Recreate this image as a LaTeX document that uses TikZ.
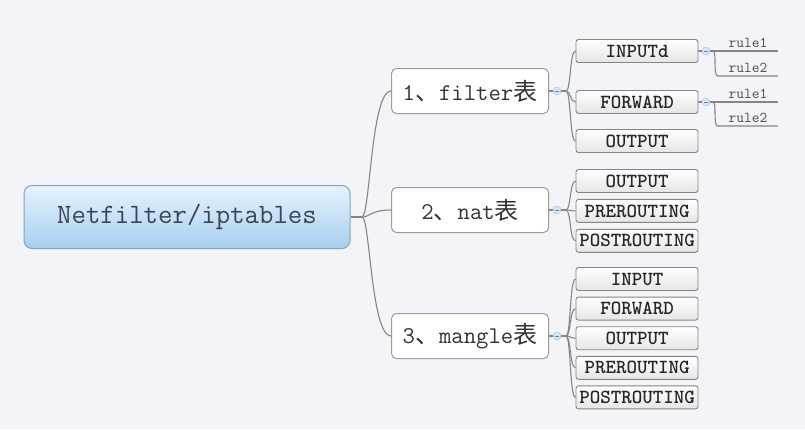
\documentclass[tikz,border=0pt]{standalone}
\usepackage{fontspec}
\newfontfamily\cjk{Noto Sans CJK SC}
\usetikzlibrary{positioning,calc}
\definecolor{fondo}{HTML}{F3F4F8}
\definecolor{linea}{HTML}{858585}
\definecolor{raizborde}{HTML}{7EA3C4}
\definecolor{raizarriba}{HTML}{E6F2FD}
\definecolor{raizabajo}{HTML}{A8CFF1}
\definecolor{raiztexto}{HTML}{3A4656}
\definecolor{cajaborde}{HTML}{9C9C9C}
\definecolor{puntoborde}{HTML}{9EC2E6}
\definecolor{puntofondo}{HTML}{D3E5F6}
\tikzset{
    raiz/.style={
        rectangle,
        rounded corners=8pt,          % esquinas bien redondeadas
        draw=raizborde,
        top color=raizarriba,         % degradado azul claro
        bottom color=raizabajo,
        line width=1pt,
        minimum width=326pt,
        minimum height=63pt,
        text=raiztexto,
        font=\ttfamily\fontsize{28}{28}\selectfont
    },
    tabla/.style={
        rectangle,
        rounded corners=5pt,
        draw=cajaborde,
        fill=white,                   % caja blanca para cada tabla
        line width=1pt,
        minimum width=157pt,
        minimum height=45pt,
        text=black!80,
        font=\ttfamily\fontsize{24}{24}\selectfont
    },
    cadena/.style={
        rectangle,
        rounded corners=2.5pt,        % cajas pequeñas de las cadenas
        draw=linea,
        top color=white,
        bottom color=black!10,
        line width=0.9pt,
        minimum width=122pt,
        minimum height=23pt,
        inner sep=0pt,
        text=black!85,
        font=\ttfamily\bfseries\fontsize{20}{20}\selectfont
    },
    regla/.style={
        anchor=south,                 % el texto queda sobre la línea
        minimum width=60pt,
        inner sep=3pt,
        text=black!70,
        font=\ttfamily\fontsize{15}{15}\selectfont
    },
    punto/.style={
        circle,
        draw=puntoborde,
        fill=puntofondo,
        minimum size=8pt,
        inner sep=0pt,
        path picture={\draw[puntoborde!70!black]
            ([xshift=-2pt]path picture bounding box.center) --
            ([xshift=2pt]path picture bounding box.center);}
    },
    rama/.style={draw=linea, line width=1.1pt}
}

\begin{document}
\begin{tikzpicture}[x=1pt, y=-1pt, node distance=6pt]
    \useasboundingbox (0,0) rectangle (805,429);
    \fill[fondo] (0,0) rectangle (805,429);

    % nodo raiz y tablas
    \node[raiz] (netfilter) at (187,217) {Netfilter/iptables};
    \node[tabla] (filter) at (470,91) {1{\cjk 、}filter{\cjk 表}};
    \node[tabla] (nat) at (470,210) {2{\cjk 、}nat{\cjk 表}};
    \node[tabla] (mangle) at (470,336) {3{\cjk 、}mangle{\cjk 表}};

    \coordinate (raizNudo) at (362,217);
    \draw[rama] (netfilter.east) -- (raizNudo);
    \foreach \t in {filter,nat,mangle}
        \draw[rama] (raizNudo) .. controls +(8,0) and +(-20,0) .. (\t.west);

    % cadenas de cada tabla
    \node[cadena] (fInput) at (637,51) {INPUTd};
    \node[cadena] (fForward) at (637,102) {FORWARD};
    \node[cadena] (fOutput) at (637,141) {OUTPUT};

    \node[cadena] (nOutput) at (637,181) {OUTPUT};
    \node[cadena, below=of nOutput] (nPre) {PREROUTING};
    \node[cadena, below=of nPre] (nPost) {POSTROUTING};

    \node[cadena] (mInput) at (637,279) {INPUT};
    \node[cadena, below=5.7pt of mInput] (mForward) {FORWARD};
    \node[cadena, below=5.7pt of mForward] (mOutput) {OUTPUT};
    \node[cadena, below=5.7pt of mOutput] (mPre) {PREROUTING};
    \node[cadena, below=5.7pt of mPre] (mPost) {POSTROUTING};

    \node[punto] (filterPunto) at (557,91) {};
    \node[punto] (natPunto) at (557,210) {};
    \node[punto] (manglePunto) at (557,336) {};

    \coordinate (filterNudo) at (566,91);
    \coordinate (natNudo) at (566,210);
    \coordinate (mangleNudo) at (566,336);
    \draw[rama] (filter.east) -- (filterPunto.west) (filterPunto.east) -- (filterNudo);
    \draw[rama] (nat.east) -- (natPunto.west) (natPunto.east) -- (natNudo);
    \draw[rama] (mangle.east) -- (manglePunto.west) (manglePunto.east) -- (mangleNudo);
    \foreach \c in {fInput,fForward,fOutput}
        \draw[rama] (filterNudo) .. controls +(5,0) and +(-6,0) .. (\c.west);
    \foreach \c in {nOutput,nPre,nPost}
        \draw[rama] (natNudo) .. controls +(5,0) and +(-6,0) .. (\c.west);
    \foreach \c in {mInput,mForward,mOutput,mPre,mPost}
        \draw[rama] (mangleNudo) .. controls +(5,0) and +(-6,0) .. (\c.west);

    % reglas de INPUTd y FORWARD
    \node[punto] (fInputPunto) at (706,51) {};
    \node[punto] (fForwardPunto) at (706,102) {};
    \coordinate (fInputNudo) at (713,51);
    \coordinate (fForwardNudo) at (713,102);
    \node[regla] (fiRegla1) at (748,51) {rule1};
    \node[regla] (fiRegla2) at (748,76) {rule2};
    \node[regla] (ffRegla1) at (748,102) {rule1};
    \node[regla] (ffRegla2) at (748,126) {rule2};

    \draw[rama] (fInput.east) -- (fInputPunto.west);
    \draw[rama] (fForward.east) -- (fForwardPunto.west);
    \draw[rama] (fInputPunto.east) -- (fiRegla1.south west) -- (fiRegla1.south east);
    \draw[rama] (fForwardPunto.east) -- (ffRegla1.south west) -- (ffRegla1.south east);
    \draw[rama] (fInputNudo) .. controls +(4,0) and +(-5,0) .. (fiRegla2.south west) -- (fiRegla2.south east);
    \draw[rama] (fForwardNudo) .. controls +(4,0) and +(-5,0) .. (ffRegla2.south west) -- (ffRegla2.south east);
\end{tikzpicture}
\end{document}
